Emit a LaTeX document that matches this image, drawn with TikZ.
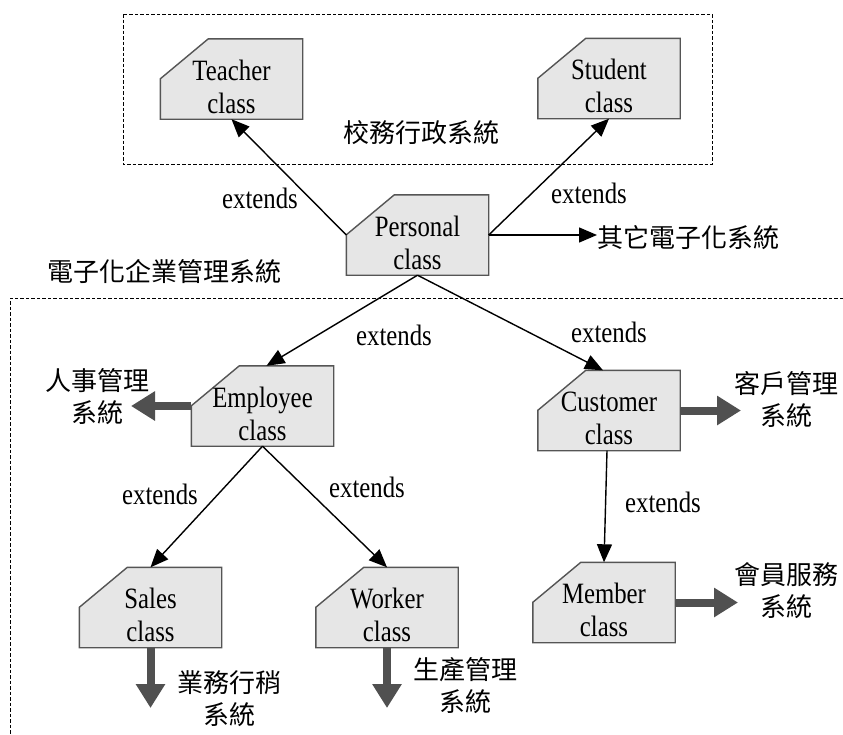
\documentclass[tikz,border=0pt]{standalone}
\usepackage{fontspec}
\setmainfont{Liberation Serif}[FakeStretch=0.84]
\newfontfamily\cjk{Noto Sans CJK TC}
\usetikzlibrary{arrows.meta,calc,backgrounds}
\definecolor{boxfill}{HTML}{E6E6E6}
\definecolor{boxline}{HTML}{555555}
\definecolor{fatgray}{HTML}{505050}
\tikzset{
  cls/.style={minimum width=142pt, minimum height=80pt, inner sep=0pt, align=center,
    font=\fontsize{29.5}{33}\selectfont},
  clsshape/.style={fill=boxfill, draw=boxline, line width=1.4pt},
  lbl/.style={font=\fontsize{29.5}{30}\selectfont, inner sep=0pt},
  cjklbl/.style={font=\cjk\fontsize{26}{32}\selectfont, inner sep=0pt, align=center},
  thin/.style={line width=1.4pt, -{Triangle[length=18pt,width=15pt]}},
  fat/.style={line width=8pt, color=fatgray, -{Triangle[length=24pt,width=28pt]}},
  dashbox/.style={draw, line width=0.9pt, dash pattern=on 3.5pt off 2pt}
}
\newcommand\clsbox[1]{\draw[clsshape] (#1.south west) -- ($(#1.north west)+(0,40)$) -- ($(#1.north west)+(48,0)$) -- (#1.north east) -- (#1.south east) -- cycle;}
\newcommand\cltext[1]{\rule{0pt}{36pt}#1\\class}
\begin{document}
\begin{tikzpicture}[x=1pt,y=-1pt]
\useasboundingbox (0,0) rectangle (843,734);
% dashed frames
\draw[dashbox] (123,14) rectangle (712,164);
\draw[dashbox] (843,298) -- (10,298) -- (10,740);
% class nodes
\node[cls] (teacher) at (231.5,79) {\cltext{Teacher}};
\node[cls] (student) at (609,78.5) {\cltext{Student}};
\node[cls] (personal) at (417.5,235) {\cltext{Personal}};
\node[cls] (employee) at (262.5,406) {\cltext{Employee}};
\node[cls] (customer) at (609,410.5) {\cltext{Customer}};
\node[cls] (sales) at (150.5,607.5) {\cltext{Sales}};
\node[cls] (worker) at (387,607.5) {\cltext{Worker}};
\node[cls] (member) at (604,602.5) {\cltext{Member}};
\begin{scope}[on background layer]
\clsbox{teacher}\clsbox{student}\clsbox{personal}\clsbox{employee}
\clsbox{customer}\clsbox{sales}\clsbox{worker}\clsbox{member}
\end{scope}
% system labels
\node[cjklbl] (sys1) at (421,133) {校務行政系統};
\node[cjklbl] (sys2) at (164,272) {電子化企業管理系統};
\node[cjklbl, anchor=west] (other) at (597,238) {其它電子化系統};
\node[cjklbl] (hr) at (97,397) {人事管理\\系統};
\node[cjklbl] (crm) at (786,400) {客戶管理\\系統};
\node[cjklbl] (mem) at (786,591) {會員服務\\系統};
\node[cjklbl] (salesys) at (229,699) {業務行稍\\系統};
\node[cjklbl] (prod) at (465,686) {生產管理\\系統};
% extends labels
\node[lbl] (e1) at (260,198) {extends};
\node[lbl] (e2) at (589,193) {extends};
\node[lbl] (e3) at (394,335) {extends};
\node[lbl] (e4) at (609,332) {extends};
\node[lbl] (e5) at (160,494) {extends};
\node[lbl] (e6) at (367,487) {extends};
\node[lbl] (e7) at (663,502) {extends};
% thin arrows
\draw[thin] (personal.west) -- (teacher.south);
\draw[thin] (personal.east) -- (student.south);
\draw[thin] (personal.east) -- (personal.east -| other.west);
\draw[thin] (personal.south) -- ($(employee.north)+(4,0)$);
\draw[thin] (personal.south) -- ($(customer.north)+(-6,0)$);
\draw[thin] (employee.south) -- (sales.north);
\draw[thin] (employee.south) -- (worker.north);
\draw[thin] ($(customer.south)+(-2,0)$) -- (member.north);
% fat arrows
\coordinate (hrtip) at (131,406);
\coordinate (crmtip) at (741,410.5);
\coordinate (memtip) at (738,602.5);
\coordinate (saltip) at (150.5,708);
\coordinate (prodtip) at (387,708);
\draw[fat] (employee.west) -- (hrtip);
\draw[fat] (customer.east) -- (crmtip);
\draw[fat] (member.east) -- (memtip);
\draw[fat] (sales.south) -- (saltip);
\draw[fat] (worker.south) -- (prodtip);
\end{tikzpicture}
\end{document}
